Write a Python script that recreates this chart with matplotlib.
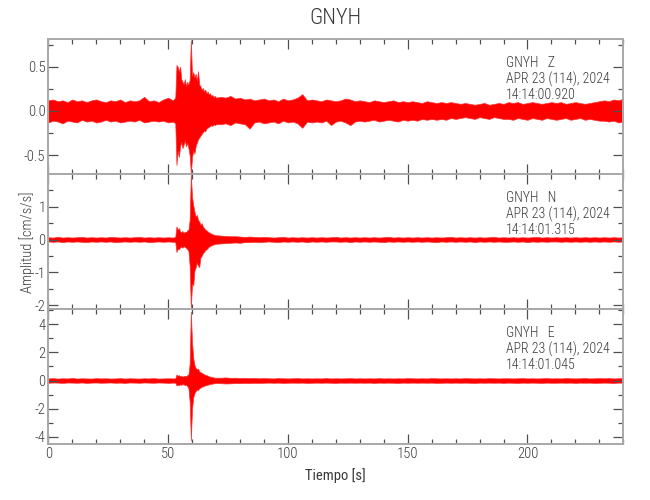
import numpy as np
import matplotlib
matplotlib.use('Agg')
import matplotlib.pyplot as plt
from matplotlib.ticker import MultipleLocator

# ---------------- data (envelope of each trace) ----------------
t_pre = np.arange(0, 52.1, 2)      # s
t_evt = np.arange(53, 70.1, 0.5)   # s
t_post = np.arange(72, 240.1, 2)   # s

z_hi_pre = [0.12,0.13,0.11,0.12,0.10,0.13,0.11,0.12,0.10,0.12,0.13,0.11,0.10,0.12,0.11,0.13,0.10,0.12,0.11,0.12,0.16,0.11,0.12,0.10,0.13,0.15,0.12]
z_lo_pre = [-0.13,-0.11,-0.12,-0.14,-0.11,-0.12,-0.13,-0.10,-0.12,-0.11,-0.13,-0.12,-0.10,-0.12,-0.11,-0.13,-0.12,-0.11,-0.12,-0.10,-0.13,-0.12,-0.11,-0.12,-0.11,-0.13,-0.12]
z_hi_evt = [0.15,0.52,0.50,0.45,0.50,0.36,0.33,0.30,0.36,0.28,0.33,0.30,0.35,0.80,0.40,0.44,0.38,0.42,0.34,0.45,0.30,0.28,0.24,0.26,0.22,0.24,0.20,0.22,0.19,0.20,0.17,0.18,0.16,0.17,0.15]
z_lo_evt = [-0.14,-0.61,-0.45,-0.52,-0.40,-0.35,-0.42,-0.38,-0.33,-0.40,-0.36,-0.42,-0.50,-0.71,-0.52,-0.45,-0.48,-0.40,-0.36,-0.32,-0.30,-0.28,-0.26,-0.24,-0.22,-0.23,-0.20,-0.19,-0.18,-0.17,-0.16,-0.17,-0.15,-0.16,-0.15]
z_hi_post = [0.16,0.15,0.17,0.14,0.15,0.13,0.14,0.12,0.13,0.14,
             0.12,0.13,0.11,0.14,0.12,0.13,0.15,0.19,0.12,0.13,
             0.12,0.11,0.13,0.12,0.11,0.12,0.14,0.13,0.11,0.12,
             0.11,0.10,0.12,0.11,0.10,0.11,0.12,0.10,0.11,0.10,
             0.11,0.10,0.09,0.11,0.10,0.09,0.10,0.09,0.10,0.09,
             0.08,0.09,0.08,0.07,0.08,0.09,0.07,0.08,0.09,0.08,
             0.10,0.09,0.10,0.08,0.09,0.10,0.09,0.08,0.09,0.10,
             0.09,0.10,0.08,0.09,0.10,0.09,0.08,0.09,0.10,0.11,
             0.12,0.11,0.13,0.12,0.14]
z_lo_post = [-0.15,-0.14,-0.16,-0.13,-0.14,-0.15,-0.20,-0.13,-0.12,-0.14,
             -0.13,-0.12,-0.14,-0.11,-0.13,-0.12,-0.14,-0.19,-0.12,-0.13,
             -0.12,-0.13,-0.11,-0.16,-0.12,-0.11,-0.13,-0.16,-0.12,-0.11,
             -0.12,-0.11,-0.10,-0.12,-0.11,-0.10,-0.11,-0.12,-0.10,-0.11,
             -0.10,-0.11,-0.09,-0.10,-0.09,-0.10,-0.09,-0.10,-0.08,-0.09,
             -0.08,-0.07,-0.08,-0.09,-0.07,-0.08,-0.09,-0.07,-0.08,-0.09,
             -0.09,-0.10,-0.08,-0.09,-0.10,-0.08,-0.09,-0.10,-0.08,-0.09,
             -0.10,-0.09,-0.08,-0.10,-0.09,-0.08,-0.10,-0.09,-0.10,-0.11,
             -0.11,-0.12,-0.11,-0.13,-0.12]

n_hi_pre = [0.07,0.06,0.08,0.06,0.07,0.06,0.07,0.08,0.06,0.07,0.06,0.07,0.06,0.08,0.07,0.06,0.07,0.06,0.07,0.08,0.06,0.07,0.06,0.07,0.06,0.07,0.06]
n_lo_pre = [-0.06,-0.07,-0.06,-0.08,-0.06,-0.07,-0.06,-0.07,-0.08,-0.06,-0.07,-0.06,-0.07,-0.06,-0.08,-0.07,-0.06,-0.07,-0.06,-0.07,-0.06,-0.08,-0.07,-0.06,-0.07,-0.06,-0.07]
n_hi_evt = [0.08,0.40,0.30,0.35,0.25,0.22,0.26,0.20,0.24,0.22,0.28,0.30,0.60,1.99,1.30,1.05,0.85,0.70,0.75,0.60,0.55,0.45,0.50,0.40,0.35,0.30,0.28,0.25,0.22,0.20,0.18,0.16,0.15,0.14,0.13]
n_lo_evt = [-0.08,-0.38,-0.28,-0.30,-0.24,-0.22,-0.25,-0.20,-0.23,-0.25,-0.30,-0.35,-0.80,-2.10,-1.35,-1.40,-0.95,-0.85,-0.70,-0.80,-0.84,-0.55,-0.50,-0.42,-0.38,-0.32,-0.30,-0.26,-0.22,-0.20,-0.18,-0.16,-0.15,-0.14,-0.13]
n_hi_post = [0.12,0.11,0.10,0.10,0.09,0.08,0.09,0.08,0.07,0.08,
             0.07,0.06,0.07,0.08,0.06,0.07,0.06,0.07,0.06,0.07,
             0.06,0.07,0.06,0.07,0.08,0.06,0.07,0.06,0.07,0.06,
             0.07,0.06,0.07,0.06,0.07,0.08,0.06,0.07,0.06,0.07,
             0.06,0.07,0.06,0.07,0.06,0.07,0.06,0.07,0.08,0.06,
             0.07,0.06,0.07,0.06,0.07,0.06,0.07,0.08,0.06,0.07,
             0.06,0.07,0.06,0.07,0.06,0.07,0.08,0.06,0.07,0.06,
             0.07,0.06,0.07,0.06,0.07,0.06,0.07,0.06,0.07,0.06,
             0.07,0.06,0.07,0.06,0.07]
n_lo_post = [-0.12,-0.11,-0.10,-0.09,-0.10,-0.08,-0.08,-0.07,-0.08,-0.07,
             -0.06,-0.07,-0.08,-0.06,-0.07,-0.06,-0.07,-0.06,-0.08,-0.06,
             -0.07,-0.06,-0.07,-0.06,-0.06,-0.07,-0.06,-0.08,-0.06,-0.07,
             -0.06,-0.07,-0.06,-0.07,-0.08,-0.06,-0.07,-0.06,-0.07,-0.06,
             -0.07,-0.06,-0.07,-0.06,-0.07,-0.08,-0.06,-0.07,-0.06,-0.07,
             -0.06,-0.07,-0.06,-0.08,-0.06,-0.07,-0.06,-0.07,-0.06,-0.07,
             -0.07,-0.06,-0.07,-0.06,-0.08,-0.06,-0.07,-0.06,-0.07,-0.06,
             -0.06,-0.07,-0.06,-0.07,-0.06,-0.07,-0.06,-0.07,-0.06,-0.07,
             -0.06,-0.07,-0.06,-0.07,-0.06]

e_hi_pre = [0.15,0.17,0.14,0.16,0.15,0.18,0.14,0.16,0.15,0.14,0.17,0.15,0.16,0.14,0.15,0.17,0.14,0.16,0.15,0.14,0.16,0.15,0.17,0.14,0.15,0.16,0.15]
e_lo_pre = [-0.16,-0.14,-0.15,-0.17,-0.14,-0.15,-0.16,-0.14,-0.17,-0.15,-0.14,-0.16,-0.15,-0.14,-0.16,-0.15,-0.17,-0.14,-0.15,-0.16,-0.14,-0.15,-0.16,-0.14,-0.15,-0.17,-0.15]
e_hi_evt = [0.15,0.42,0.35,0.38,0.30,0.32,0.28,0.30,0.35,0.30,0.38,0.45,1.20,4.90,2.70,1.60,1.10,0.90,0.80,0.85,0.65,0.60,0.55,0.50,0.45,0.40,0.38,0.35,0.30,0.28,0.25,0.24,0.22,0.20,0.20]
e_lo_evt = [-0.15,-0.35,-0.30,-0.33,-0.28,-0.30,-0.26,-0.28,-0.32,-0.30,-0.40,-0.55,-1.50,-4.25,-2.00,-1.20,-0.90,-0.75,-0.65,-0.67,-0.55,-0.50,-0.45,-0.42,-0.38,-0.35,-0.32,-0.30,-0.27,-0.25,-0.23,-0.22,-0.20,-0.19,-0.18]
e_hi_post = [0.20,0.22,0.19,0.20,0.18,0.19,0.17,0.18,0.16,0.17,
             0.16,0.15,0.17,0.16,0.15,0.16,0.17,0.15,0.16,0.15,
             0.16,0.15,0.17,0.15,0.16,0.15,0.16,0.17,0.15,0.16,
             0.15,0.16,0.15,0.17,0.15,0.16,0.15,0.16,0.15,0.17,
             0.16,0.15,0.16,0.15,0.17,0.16,0.15,0.16,0.15,0.16,
             0.15,0.17,0.16,0.15,0.16,0.15,0.17,0.16,0.15,0.16,
             0.16,0.15,0.16,0.17,0.15,0.16,0.15,0.16,0.17,0.15,
             0.16,0.15,0.17,0.16,0.15,0.16,0.17,0.15,0.16,0.17,
             0.16,0.17,0.15,0.16,0.17]
e_lo_post = [-0.19,-0.21,-0.20,-0.18,-0.19,-0.17,-0.18,-0.16,-0.17,-0.16,
             -0.15,-0.16,-0.15,-0.17,-0.16,-0.15,-0.16,-0.15,-0.17,-0.16,
             -0.15,-0.16,-0.15,-0.16,-0.17,-0.15,-0.16,-0.15,-0.16,-0.15,
             -0.16,-0.15,-0.17,-0.15,-0.16,-0.15,-0.16,-0.17,-0.15,-0.16,
             -0.15,-0.16,-0.15,-0.16,-0.15,-0.17,-0.16,-0.15,-0.16,-0.15,
             -0.16,-0.15,-0.16,-0.17,-0.15,-0.16,-0.15,-0.16,-0.15,-0.17,
             -0.15,-0.16,-0.17,-0.15,-0.16,-0.15,-0.16,-0.17,-0.15,-0.16,
             -0.16,-0.15,-0.16,-0.15,-0.17,-0.15,-0.16,-0.15,-0.17,-0.16,
             -0.15,-0.16,-0.17,-0.15,-0.16]

components = ["Z", "N", "E"]
station = "GNYH"
date_label = "APR 23 (114), 2024"
start_times = ["14:14:00.920", "14:14:01.315", "14:14:01.045"]
ylims = [(-0.716, 0.81), (-2.13, 1.99), (-4.54, 5.07)]
ymajor = [0.5, 1, 2]
yminor = [0.25, 0.5, 1]
yformats = ["%.1f", "%d", "%d"]

# ---------------- drawing ----------------
plt.rcParams['font.family'] = ['Roboto Condensed', 'Roboto', 'DejaVu Sans']
plt.rcParams['font.weight'] = 'light'
plt.rcParams['axes.unicode_minus'] = True
TXT = '#3a3a3a'

t = np.concatenate([t_pre, t_evt, t_post])
env = [
    (np.concatenate([z_lo_pre, z_lo_evt, z_lo_post]), np.concatenate([z_hi_pre, z_hi_evt, z_hi_post])),
    (np.concatenate([n_lo_pre, n_lo_evt, n_lo_post]), np.concatenate([n_hi_pre, n_hi_evt, n_hi_post])),
    (np.concatenate([e_lo_pre, e_lo_evt, e_lo_post]), np.concatenate([e_hi_pre, e_hi_evt, e_hi_post])),
]

fig = plt.figure(figsize=(6.5, 5), dpi=100)
left, width, height = 48.3 / 650, 575 / 650, 135 / 500
bottoms = [1 - 174.3 / 500, 1 - 309.3 / 500, 1 - 444.3 / 500]

axes = []
for i, comp in enumerate(components):
    ax = fig.add_axes([left, bottoms[i], width, height])
    axes.append(ax)
    lo, hi = env[i]
    ax.fill_between(t, lo, hi, color='#ff0000', lw=0.5, edgecolor='#ff3030')
    ax.set_xlim(0, 240)
    ax.set_ylim(*ylims[i])
    ax.xaxis.set_major_locator(MultipleLocator(50))
    ax.xaxis.set_minor_locator(MultipleLocator(10))
    ax.yaxis.set_major_locator(MultipleLocator(ymajor[i]))
    ax.yaxis.set_minor_locator(MultipleLocator(yminor[i]))
    ax.yaxis.set_major_formatter(plt.FormatStrFormatter(yformats[i]))
    ax.tick_params(which='both', direction='in', top=True, right=True,
                   colors='#505050', labelcolor=TXT, labelsize=10.5, width=0.9)
    ax.tick_params(which='major', length=7, pad=2)
    ax.tick_params(which='minor', length=3.5)
    for sp in ax.spines.values():
        sp.set_color('#a8a8a8')
        sp.set_linewidth(1.4)
    if i < 2:
        ax.tick_params(labelbottom=False)
    ax.text(0.796, 0.875, f"{station}   {comp}\n{date_label}\n{start_times[i]}",
            transform=ax.transAxes, ha='left', va='top', fontsize=10,
            color=TXT, linespacing=1.12)

axes[2].set_xlabel("Tiempo [s]", fontsize=10.5, color=TXT, labelpad=5)
fig.text(27 / 650, 1 - 242 / 500, "Amplitud [cm/s/s]", rotation=90,
         ha='center', va='center', fontsize=10.5, color=TXT)
fig.text(335.8 / 650, 1 - 18 / 500, station, ha='center', va='center',
         fontsize=16, color=TXT)

fig.savefig("out.png", dpi=100)
